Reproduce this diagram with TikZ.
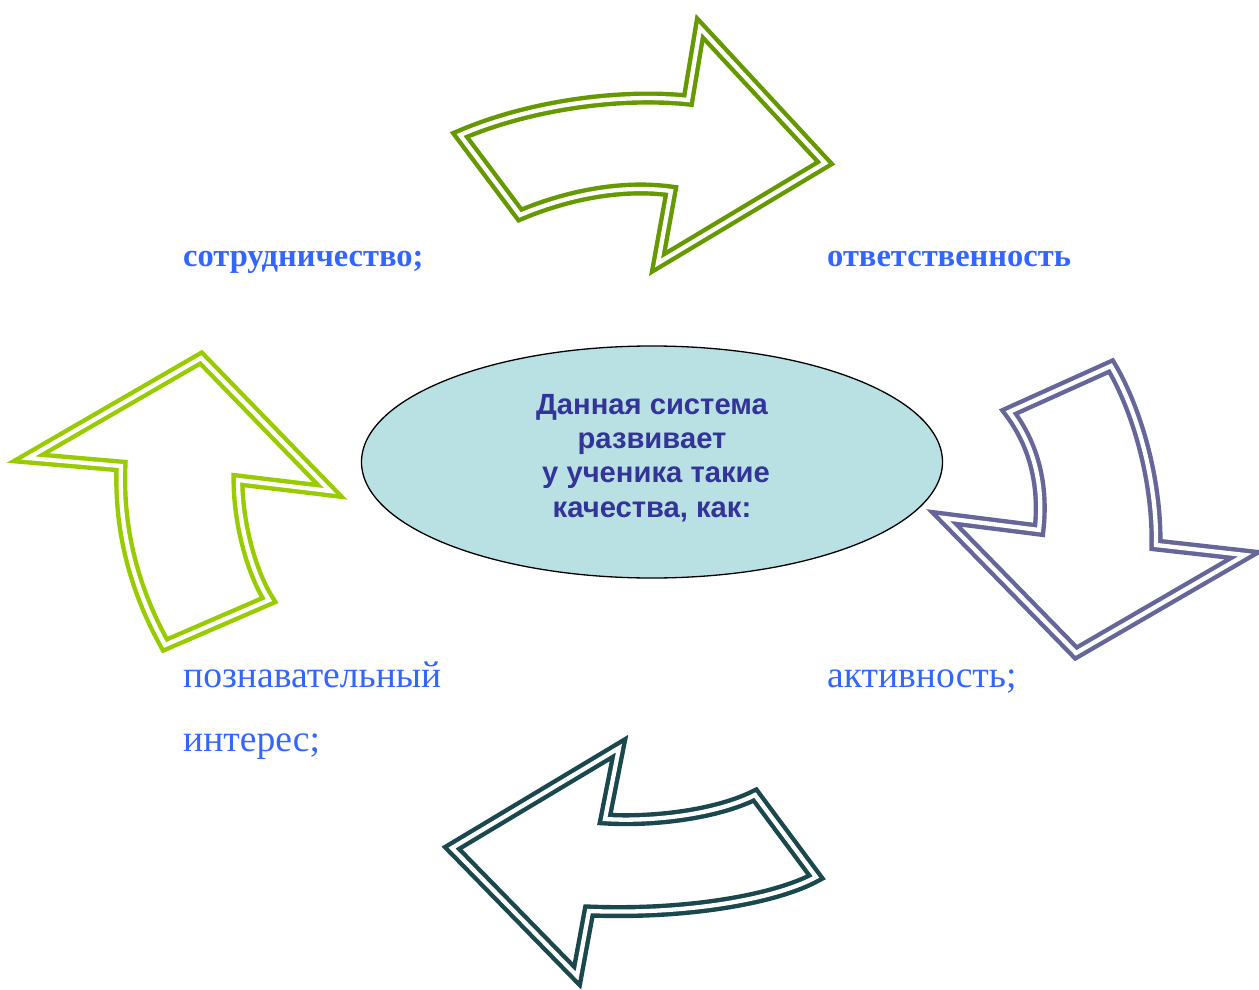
\documentclass[tikz,border=0pt]{standalone}
\usepackage{fontspec}
\setmainfont{Liberation Serif}
\newfontfamily\arialfont{Liberation Sans}
\usetikzlibrary{shapes.geometric}
\definecolor{topgreen}{RGB}{102,153,0}
\definecolor{rightpurple}{RGB}{102,102,153}
\definecolor{bottomteal}{RGB}{26,72,76}
\definecolor{leftgreen}{RGB}{153,204,0}
\definecolor{labelblue}{RGB}{51,102,255}
\definecolor{ellfill}{RGB}{185,224,227}
\definecolor{elltext}{RGB}{51,51,153}
\begin{document}
\begin{tikzpicture}[x=1pt,y=-1pt,
  arrowshape/.style={draw=#1, double=white, double distance=4.3pt, line width=4.4pt, line join=miter, miter limit=20},
  lbl/.style={text=labelblue, anchor=base west, inner sep=0pt, font=\fontsize{37.6}{46}\selectfont},
  lblb/.style={text=labelblue, anchor=base west, inner sep=0pt, font=\bfseries\fontsize{32.5}{40}\selectfont},
  centertext/.style={align=center, text=elltext, inner sep=0pt, font=\arialfont\bfseries\fontsize{29.2}{34.2}\selectfont}]
\useasboundingbox (0,0) rectangle (1259,990);

% top arrow
\draw[arrowshape=topgreen] (460,135) -- (520,215) .. controls (565,196) and (620,184) .. (671,191) -- (658,263) -- (825,163) -- (700,28) -- (688,100) .. controls (620,93) and (530,105) .. cycle;
% right arrow
\draw[arrowshape=rightpurple] (1009,412) -- (1111,366) .. controls (1137,410) and (1157,480) .. (1156,545) -- (1245,555) -- (1076,653) -- (944,518) -- (1039,530) .. controls (1044,485) and (1034,445) .. cycle;
% bottom arrow
\draw[arrowshape=bottomteal] (452,848) -- (619,748) -- (605,819) .. controls (650,822) and (715,815) .. (755,795) -- (816,877) .. controls (778,898) and (690,915) .. (589,911) -- (577,976) -- cycle;
% left arrow
\draw[arrowshape=leftgreen] (201,358) -- (330,491) -- (238,480) .. controls (238,520) and (250,570) .. (269,600) -- (165,645) .. controls (140,600) and (118,540) .. (121,466) -- (28,458) -- cycle;

\node[draw=black, line width=1.3pt, fill=ellfill, ellipse, minimum width=581pt, minimum height=232pt, inner sep=0pt] (ell) at (652,462) {};
\node[centertext] (elltxt) at (652,458) {Данная система\\развивает\\~у ученика такие\\качества, как:};

\node[lblb] (l1) at (183,266) {сотрудничество;};
\node[lblb] (l2) at (827,266) {ответственность};
\node[lbl] (l3) at (183,687) {познавательный};
\node[lbl] (l4) at (183,751) {интерес;};
\node[lbl] (l5) at (827,687) {активность;};
\end{tikzpicture}
\end{document}
